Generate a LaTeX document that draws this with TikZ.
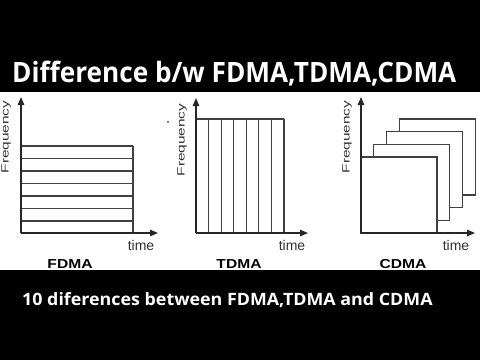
\documentclass[tikz,border=0pt]{standalone}
\usepackage{fontspec}
\setmainfont{Liberation Sans}
\newfontfamily\bannerfont{Open Sans}
\usetikzlibrary{arrows.meta}

\tikzset{
  axisline/.style={black!85, line width=1.3pt, -{Triangle[length=8pt,width=6.5pt]}},
  bandline/.style={black!75, line width=1.1pt},
  sheet/.style={draw=black!75, line width=1.1pt, fill=white},
  freqlabel/.style={rotate=90, text=black!80, inner sep=0pt, font=\fontsize{14}{14}\selectfont},
  timelabel/.style={anchor=base, text=black!80, inner sep=0pt, font=\fontsize{14}{14}\selectfont},
  schemelabel/.style={anchor=base, inner sep=0pt, font=\bfseries\fontsize{13}{13}\selectfont},
  banner/.style={anchor=base west, text=white, inner sep=0pt, font=\bannerfont\bfseries}
}

\begin{document}
\begin{tikzpicture}[x=1pt,y=-1pt]

\useasboundingbox (0,0) rectangle (480,360);
\fill [black] (0,0) rectangle (480,92);
\fill [white] (0,92) rectangle (480,270);
\fill [black] (0,270) rectangle (480,360);

\node [banner, font=\bannerfont\bfseries\fontsize{28}{30}\selectfont] (title) at (12,82) {\scalebox{0.935}[1]{Difference b/w FDMA,TDMA,CDMA}};
\node [banner, font=\bannerfont\bfseries\fontsize{17}{20}\selectfont] (subtitle) at (22,305) {\scalebox{1.05}[1]{10 diferences between FDMA,TDMA and CDMA}};

% FDMA
\path (21,233) coordinate (FOrigin);
\path (21,97) coordinate (FTop);
\path (158,233) coordinate (FEnd);
\path (133,146) coordinate (FCorner);

\foreach \y in {146,158.5,171,183.5,196,208.5,221} {
  \draw [bandline] (21,\y) -- (133,\y);
}
\draw [bandline] (FCorner) -- (133,233);
\draw [axisline] (FOrigin) -- (FTop);
\draw [axisline] (FOrigin) -- (FEnd);

\node [freqlabel] (FFreq) at (6,137) {\scalebox{1.1}[0.75]{Frequency}};
\node [timelabel] (FTime) at (141,250) {time};
\node [schemelabel] (FName) at (70,268) {\scalebox{1.2}[1]{FDMA}};

% TDMA
\path (196,233) coordinate (TOrigin);
\path (196,98) coordinate (TTop);
\path (308,233) coordinate (TEnd);
\path (284,119) coordinate (TCorner);

\foreach \x in {208.6,221.1,233.7,246.3,258.9,271.4,284} {
  \draw [bandline] (\x,119) -- (\x,233);
}
\draw [bandline] (196,119) -- (TCorner);
\draw [axisline] (TOrigin) -- (TTop);
\draw [axisline] (TOrigin) -- (TEnd);
\fill [black] (168,122) circle (0.8pt);

\node [freqlabel] (TFreq) at (182,140) {\scalebox{1.1}[0.75]{Frequency}};
\node [timelabel] (TTime) at (292,250) {time};
\node [schemelabel] (TName) at (239,268) {\scalebox{1.2}[1]{TDMA}};

% CDMA
\path (361,233) coordinate (COrigin);
\path (361,97) coordinate (CTop);
\path (475,233) coordinate (CEnd);

\draw [sheet] (399.1,119) rectangle (475.1,195);
\draw [sheet] (386.4,131.7) rectangle (462.4,207.7);
\draw [sheet] (373.7,144.4) rectangle (449.7,220.4);
\draw [sheet] (361,157) rectangle (437,233);
\draw [axisline] (COrigin) -- (CTop);
\draw [axisline] (COrigin) -- (CEnd);

\node [freqlabel] (CFreq) at (347,137) {\scalebox{1.1}[0.75]{Frequency}};
\node [timelabel] (CTime) at (456,250) {time};
\node [schemelabel] (CName) at (403,268) {\scalebox{1.2}[1]{CDMA}};

\end{tikzpicture}
\end{document}
